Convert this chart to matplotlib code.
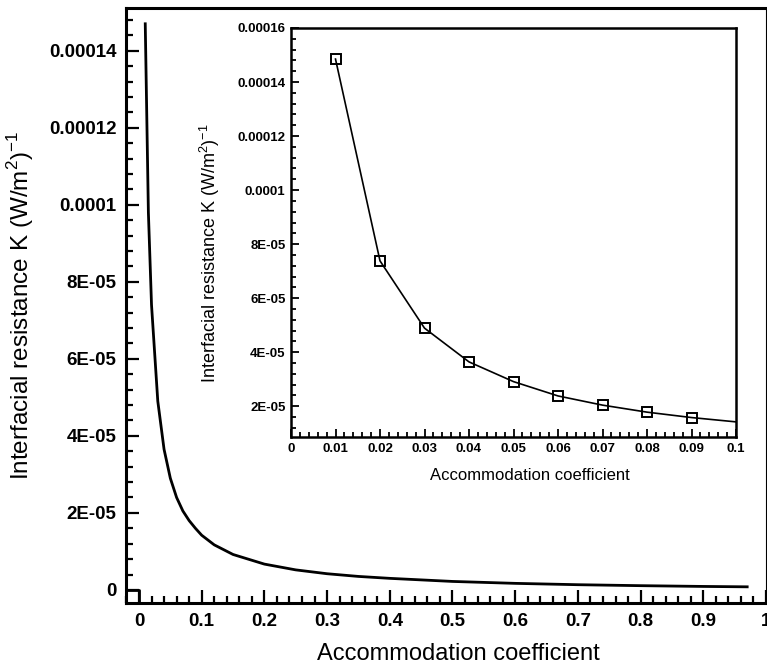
import numpy as np
import matplotlib.pyplot as plt
from matplotlib.ticker import FixedLocator, MultipleLocator

plt.rcParams['font.family'] = ['Liberation Sans', 'DejaVu Sans']

# main curve
alpha = [0.01, 0.015, 0.02, 0.03, 0.04, 0.05, 0.06, 0.07, 0.08, 0.09, 0.1,
         0.12, 0.15, 0.2, 0.25, 0.3, 0.35, 0.4, 0.5, 0.6, 0.7, 0.8, 0.9, 0.97]
resist = [1.47e-4, 9.8e-5, 7.4e-5, 4.9e-5, 3.65e-5, 2.9e-5, 2.4e-5, 2.05e-5, 1.8e-5, 1.6e-5, 1.42e-5,
          1.17e-5, 9.2e-6, 6.7e-6, 5.2e-6, 4.2e-6, 3.5e-6, 3.0e-6, 2.2e-6, 1.7e-6, 1.35e-6, 1.1e-6, 9.0e-7, 8.0e-7]

# inset: squares at 0.01..0.09, line runs on to 0.1
inset_alpha = [0.01, 0.02, 0.03, 0.04, 0.05, 0.06, 0.07, 0.08, 0.09]
inset_resist = [1.485e-4, 7.38e-5, 4.89e-5, 3.64e-5, 2.91e-5, 2.38e-5, 2.04e-5, 1.78e-5, 1.58e-5]
inset_end = (0.1, 1.42e-5)

main_xticks = [0, 0.1, 0.2, 0.3, 0.4, 0.5, 0.6, 0.7, 0.8, 0.9, 1.0]
main_xlabels = ['0', '0.1', '0.2', '0.3', '0.4', '0.5', '0.6', '0.7', '0.8', '0.9', '1']
main_yticks = [0, 2e-5, 4e-5, 6e-5, 8e-5, 1e-4, 1.2e-4, 1.4e-4]
main_ylabels = ['0', '2E-05', '4E-05', '6E-05', '8E-05', '0.0001', '0.00012', '0.00014']
inset_xticks = [0, 0.01, 0.02, 0.03, 0.04, 0.05, 0.06, 0.07, 0.08, 0.09, 0.1]
inset_xlabels = ['0', '0.01', '0.02', '0.03', '0.04', '0.05', '0.06', '0.07', '0.08', '0.09', '0.1']
inset_yticks = [2e-5, 4e-5, 6e-5, 8e-5, 1e-4, 1.2e-4, 1.4e-4, 1.6e-4]
inset_ylabels = ['2E-05', '4E-05', '6E-05', '8E-05', '0.0001', '0.00012', '0.00014', '0.00016']

ylabel = r'Interfacial resistance K (W/m$^{\mathregular{2}}$)$^{\mathregular{-1}}$'
xlabel = 'Accommodation coefficient'

W, H = 767, 664
fig = plt.figure(figsize=(W/100, H/100), dpi=100)

# ---- main axes
ax = fig.add_axes([126/W, 1 - 603/H, 640/W, 595/H])
xmin, xmax = -0.0207, 1.0
ymin, ymax = -3.4e-6, 1.511e-4
ax.plot(alpha, resist, color='black', lw=2.0)
ax.plot([xmin, 0, 0], [0, 0, ymin], color='black', lw=2.0, clip_on=False)
ax.set_xlim(xmin, xmax)
ax.set_ylim(ymin, ymax)

ax.xaxis.set_major_locator(FixedLocator(main_xticks))
ax.set_xticklabels(main_xlabels)
ax.xaxis.set_minor_locator(MultipleLocator(0.02))
ax.yaxis.set_major_locator(FixedLocator(main_yticks))
ax.set_yticklabels(main_ylabels)
ax.yaxis.set_minor_locator(MultipleLocator(4e-6))
ax.tick_params(which='both', direction='in', width=1.6, top=False, right=False)
ax.tick_params(which='major', length=9.5, labelsize=13.5, pad=7)
ax.tick_params(which='minor', length=5)
for lab in ax.get_xticklabels() + ax.get_yticklabels():
    lab.set_fontweight('bold')
for s in ['left', 'bottom', 'top']:
    ax.spines[s].set_linewidth(2.2)
ax.spines['right'].set_linewidth(0.8)

ax.set_xlabel(xlabel, fontsize=17)
ax.xaxis.set_label_coords(0.519, -0.067)
ax.set_ylabel(ylabel, fontsize=17.5)
ax.yaxis.set_label_coords(-0.14, 0.5)

# ---- inset
ins = fig.add_axes([291/W, 1 - 437/H, 445/W, 409/H])
ins.plot(inset_alpha + [inset_end[0]], inset_resist + [inset_end[1]], color='black', lw=1.2)
ins.plot(inset_alpha, inset_resist, ls='none', marker='s', ms=7, mfc='none', mec='black', mew=1.4)
ins.set_xlim(0, 0.1)
ins.set_ylim(8.6e-6, 1.6e-4)
ins.xaxis.set_major_locator(FixedLocator(inset_xticks))
ins.set_xticklabels(inset_xlabels)
ins.xaxis.set_minor_locator(MultipleLocator(0.002))
ins.yaxis.set_major_locator(FixedLocator(inset_yticks))
ins.set_yticklabels(inset_ylabels)
ins.yaxis.set_minor_locator(MultipleLocator(4e-6))
ins.tick_params(which='both', direction='in', width=1.3, top=False, right=False)
ins.tick_params(which='major', length=6, labelsize=9.5, pad=4)
ins.tick_params(which='minor', length=3.5)
for lab in ins.get_xticklabels() + ins.get_yticklabels():
    lab.set_fontweight('bold')
for s in ins.spines.values():
    s.set_linewidth(1.8)

ins.set_xlabel(xlabel, fontsize=12)
ins.xaxis.set_label_coords(0.537, -0.076)
ins.set_ylabel(ylabel, fontsize=13)
ins.yaxis.set_label_coords(-0.155, 0.45)

fig.savefig('out.png', dpi=100)
